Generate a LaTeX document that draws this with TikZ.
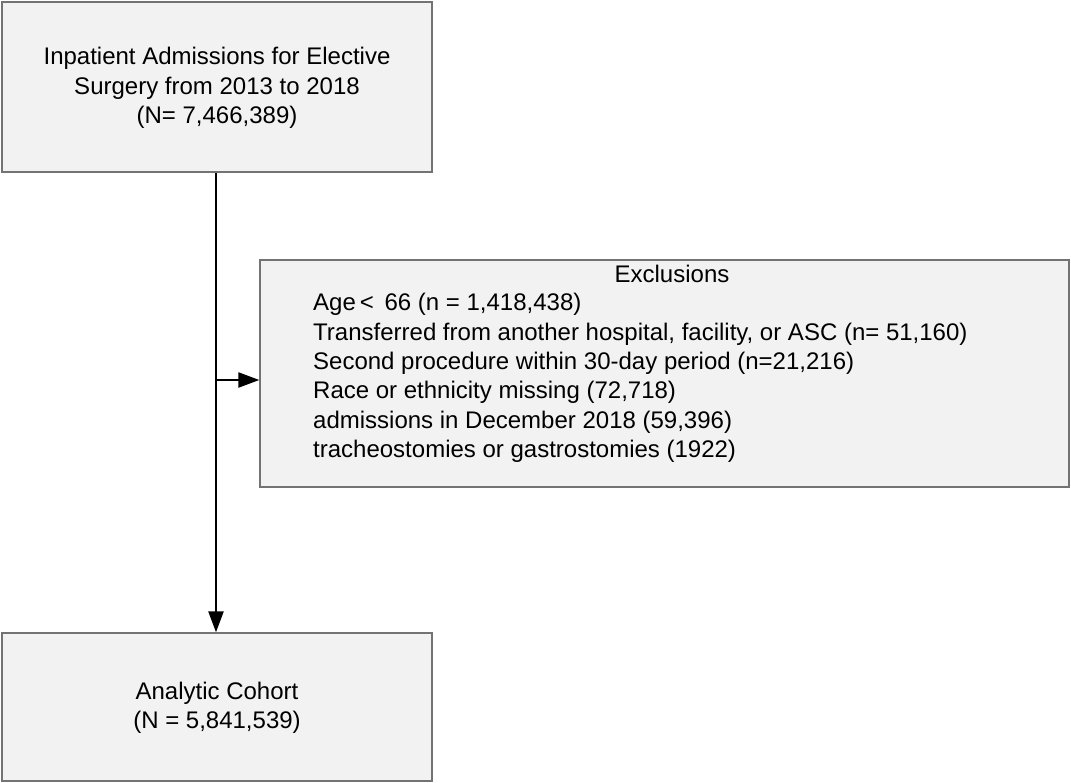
\documentclass[tikz,border=0pt]{standalone}
\usepackage{fontspec}
\setmainfont{Liberation Sans}
\usetikzlibrary{arrows.meta}
\begin{document}
\begin{tikzpicture}[x=1pt,y=-1pt,
  box/.style={draw=black!55,line width=1.3pt,fill=black!5,inner sep=0pt},
  txt/.style={font=\fontsize{24}{29.4}\selectfont,align=center,inner sep=0pt},
  conn/.style={line width=2.2pt,-{Triangle[length=21pt,width=15pt]}}]
\useasboundingbox (0,0) rectangle (1071,782);
\node[box,minimum width=430pt,minimum height=170pt] (top) at (217,87) {};
\node[txt] (toptxt) at (217,88) {Inpatient Admissions for Elective\\Surgery from 2013 to 2018\\(N= 7,466,389)};
\node[box,minimum width=809pt,minimum height=227pt] (excl) at (664.5,373.5) {};
\node[txt] (excltitle) at (672,274) {Exclusions};
\node[txt,align=left,anchor=west] (excllist) at (313,378) {Age\,<\, 66 (n = 1,418,438)\\
Transferred from another hospital, facility, or ASC (n= 51,160)\\
Second procedure within 30-day period (n=21,216)\\
Race or ethnicity missing (72,718)\\
admissions in December 2018 (59,396)\\
tracheostomies or gastrostomies (1922)};
\node[box,minimum width=430pt,minimum height=148pt] (bot) at (217,707) {};
\node[txt] (bottxt) at (217,707.5) {Analytic Cohort\\(N = 5,841,539)};
\coordinate (j) at (216,380);
\draw[conn] (top.south -| j) -- (bot.north -| j);
\draw[conn] (j) -- (j -| excl.west);
\end{tikzpicture}
\end{document}
